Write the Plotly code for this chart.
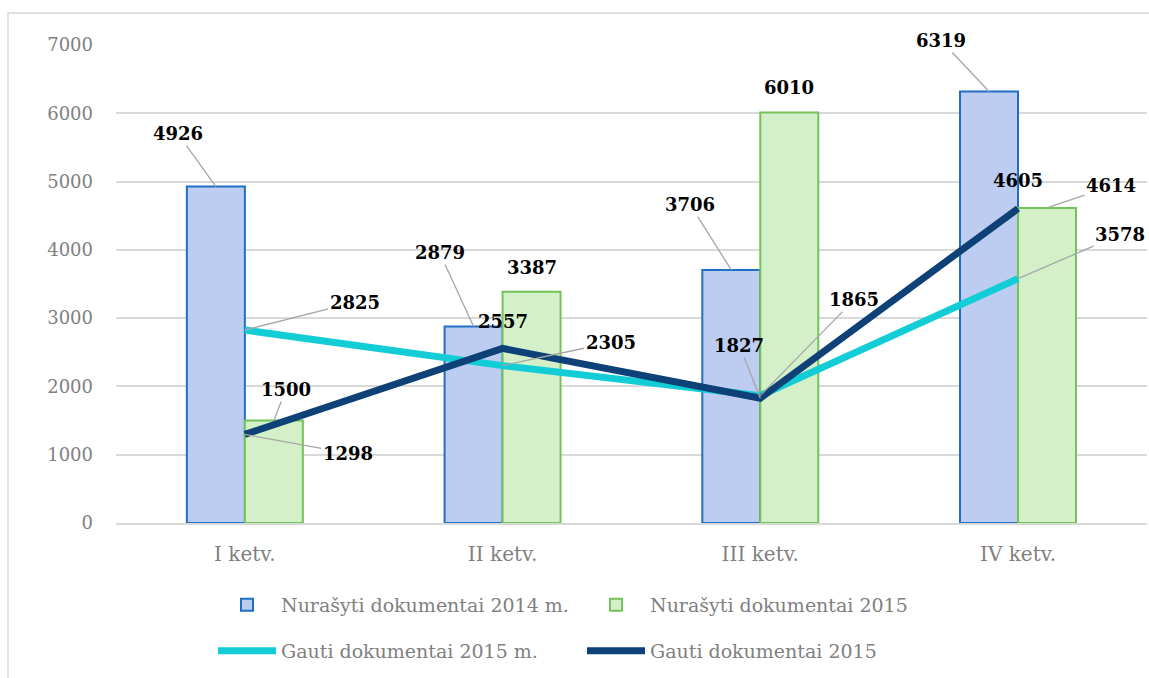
import plotly.graph_objects as go

categories = ["I ketv.", "II ketv.", "III ketv.", "IV ketv."]
nur_2014 = [4926, 2879, 3706, 6319]
nur_2015 = [1500, 3387, 6010, 4614]
gauti_2015m = [2825, 2305, 1865, 3578]
gauti_2015 = [1298, 2557, 1827, 4605]

names = ["Nurašyti dokumentai 2014 m.", "Nurašyti dokumentai 2015",
         "Gauti dokumentai 2015 m.", "Gauti dokumentai 2015"]

W, H = 1149, 678
ML, MR, MT, MB = 116, 2, 45, 155
BARGAP = 0.55
plot_w = W - ML - MR
plot_h = H - MT - MB
bar_px = plot_w / len(categories) * (1 - BARGAP) / 2

SERIF = "DejaVu Serif"
GRAY = "#7f7f7f"

fig = go.Figure()
fig.add_trace(go.Bar(x=categories, y=nur_2014, name=names[0],
                     marker=dict(color="#bccdf1", line=dict(color="#1f6fc5", width=2)),
                     legend="legend"))
fig.add_trace(go.Bar(x=categories, y=nur_2015, name=names[1],
                     marker=dict(color="#d3f0c9", line=dict(color="#74c25a", width=2)),
                     legend="legend"))
fig.add_trace(go.Scatter(x=categories, y=gauti_2015m, name=names[2], mode="lines",
                         line=dict(color="#12cdd6", width=7), legend="legend2"))
fig.add_trace(go.Scatter(x=categories, y=gauti_2015, name=names[3], mode="lines",
                         line=dict(color="#0d4177", width=7), legend="legend2"))

# label offsets (pixels): (ax, ay, leader)
off_2014 = [(-38, -53, True), (-34, -74, True), (-41, -65, True), (-48, -51, True)]
off_2015 = [(12, -31, True), (0, -24, False), (0, -25, False), (64, -22, True)]
off_g15m = [(110, -28, True), (108, -23, True), (94, -96, True), (102, -44, True)]
off_g15 = [(103, 19, True), (0, -27, False), (-21, -53, True), (0, -28, False)]

lab_font = dict(family=SERIF, size=18, color="black", weight="bold")

def add_labels(vals, offs, xshift):
    for c, v, (ax, ay, lead) in zip(categories, vals, offs):
        if lead:
            fig.add_annotation(x=c, y=v, xshift=xshift, text=str(v), showarrow=True,
                               ax=ax, ay=ay, arrowhead=0, arrowwidth=1.3,
                               arrowcolor="#a6a6a6", font=lab_font)
        else:
            fig.add_annotation(x=c, y=v, xshift=xshift + ax, yshift=-ay, text=str(v),
                               showarrow=False, yanchor="middle", font=lab_font)

add_labels(nur_2014, off_2014, -bar_px / 2)
add_labels(nur_2015, off_2015, bar_px / 2)
add_labels(gauti_2015m, off_g15m, 0)
add_labels(gauti_2015, off_g15, 0)

# chart border
fig.add_shape(type="rect", xref="paper", yref="paper",
              x0=(8 - ML) / plot_w, x1=1.2, y0=-0.6, y1=(H - MB - 13) / plot_h,
              line=dict(color="#d9d9d9", width=1.5), layer="below")

leg_common = dict(orientation="h", xanchor="left", yanchor="middle",
                  font=dict(family=SERIF, size=19, color=GRAY),
                  entrywidth=296, itemwidth=58, bgcolor="rgba(0,0,0,0)")

fig.update_layout(
    width=W, height=H,
    margin=dict(l=ML, r=MR, t=MT, b=MB, autoexpand=False),
    paper_bgcolor="white", plot_bgcolor="white",
    barmode="group", bargap=BARGAP, bargroupgap=0,
    showlegend=True,
    legend=dict(x=(213 - ML) / plot_w, y=-(605 - (H - MB)) / plot_h, **leg_common),
    legend2=dict(x=(213 - ML) / plot_w, y=-(651 - (H - MB)) / plot_h, **leg_common),
    font=dict(family=SERIF, color=GRAY),
)
fig.update_yaxes(range=[0, 7000], dtick=1000, showgrid=True, gridcolor="#d9d9d9",
                 gridwidth=1.5, zeroline=False, ticks="", ticklabelstandoff=22,
                 automargin=False, tickfont=dict(family=SERIF, size=18, color=GRAY))
fig.update_xaxes(showline=True, linecolor="#d9d9d9", linewidth=1.5, ticks="",
                 automargin=False, ticklabelstandoff=12,
                 tickfont=dict(family=SERIF, size=20, color=GRAY))

fig.write_html("out.html", config={"displayModeBar": False},
               post_script="document.body.style.margin='0';")
